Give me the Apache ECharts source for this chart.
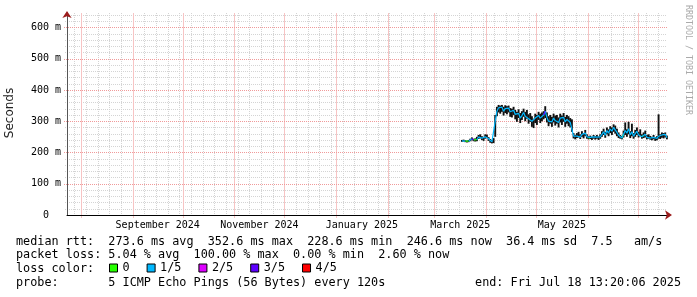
<!DOCTYPE html>
<html><head><meta charset="utf-8">
<script src="https://cdn.jsdelivr.net/npm/echarts@6/dist/echarts.min.js"></script>
<style>html,body{margin:0;padding:0;background:#fff}#c{width:697px;height:297px}</style>
</head><body><div id="c"></div>
<script>
// ---- time frame ----
const endTime = Date.UTC(2025, 6, 18, 13, 20, 6);
const spanDays = 360;
const firstDay = '2025-03-17';          // first daily sample (noon)

// ---- daily median RTT (ms), smoke low/high (ms), loss level (fifths) ----
const median = [
 237,238,236,235,236,240,244,240,239,241,249,252,246,243,250,253,244,238,234,236,
 300,332,343,338,345,332,340,336,342,330,328,335,322,316,325,310,318,328,316,322,
 308,312,300,296,310,304,318,310,315,320,332,312,300,306,298,310,302,306,296,310,
 304,312,298,306,300,296,290,252,247,252,256,249,258,252,262,250,246,248,244,250,
 246,249,245,250,258,266,255,270,262,275,268,280,272,264,255,250,246,258,270,262,
 276,256,266,252,260,268,256,262,250,254,258,248,250,246,244,248,242,245,252,250,
 256,252,258,247
];
const smokeLow = [
 234,235,233,232,233,236,239,236,235,236,243,245,240,237,244,246,237,231,229,230,
 250,316,328,324,330,318,326,322,328,314,312,320,306,298,310,294,304,314,300,308,
 292,298,282,278,294,288,304,294,300,306,310,296,284,292,282,296,286,292,280,296,
 288,298,282,292,284,280,266,245,242,246,248,243,250,245,252,244,242,243,240,244,
 241,244,240,244,250,256,247,258,252,262,256,266,260,252,246,244,242,248,256,250,
 258,246,252,244,250,256,248,252,244,246,248,242,244,241,239,242,237,239,244,243,
 247,245,248,242
];
const smokeHigh = [
 240,241,239,238,240,244,248,244,245,250,256,258,252,250,258,257,249,243,240,246,
 320,346,352,350,352,346,351,348,350,342,340,346,336,330,338,326,332,340,330,336,
 322,326,316,308,324,320,330,324,328,332,348,328,316,320,314,324,318,320,312,324,
 318,326,314,320,316,310,306,262,256,262,266,258,268,262,272,258,252,254,250,256,
 252,256,251,258,268,276,266,280,274,284,280,290,286,276,264,256,252,270,296,274,
 298,268,292,262,272,280,266,274,258,264,270,256,258,253,250,256,249,252,322,258,
 264,262,264,254
];
const lossLevel = [
 1,1,0,0,1,1,3,0,0,1,1,1,1,1,1,1,1,1,1,1,
 1,1,1,1,1,1,1,1,1,1,1,1,1,1,1,1,1,1,1,1,
 1,1,1,1,1,1,1,1,1,3,1,1,1,1,1,1,1,1,1,1,
 1,1,1,1,1,1,1,1,1,1,1,1,1,1,1,1,0,1,1,1,
 1,1,1,1,1,1,1,1,1,1,1,1,1,1,1,1,0,1,1,1,
 1,1,1,1,1,1,1,1,0,1,1,1,1,1,1,1,1,1,1,1,
 1,1,1,1
];
const lossNames = ['0', '1/5', '2/5', '3/5', '4/5'];
const lossColors = ['#26ff00', '#00b8ff', '#dd00ff', '#5e00ff', '#ff0000'];

// ---- axis ticks / labels ----
const monthStarts = ['2024-08-01','2024-09-01','2024-10-01','2024-11-01','2024-12-01','2025-01-01',
  '2025-02-01','2025-03-01','2025-04-01','2025-05-01','2025-06-01','2025-07-01'];
const labelMonths = ['2024-09', '2024-11', '2025-01', '2025-03', '2025-05'];
const labelTexts = ['September 2024', 'November 2024', 'January 2025', 'March 2025', 'May 2025'];
const firstSunday = '2024-07-28';
const yMajorTicks = [0, 100, 200, 300, 400, 500, 600];
const yMinorTicks = [20,40,60,80,120,140,160,180,220,240,260,280,320,340,360,380,420,440,460,480,520,540,560,580,620,640];
const yMax = 646;

// ---- legend / footer text ----
const line1 = 'median rtt:  273.6 ms avg  352.6 ms max  228.6 ms min  246.6 ms now  36.4 ms sd  7.5   am/s';
const line2 = 'packet loss: 5.04 % avg  100.00 % max  0.00 % min  2.60 % now';
const line3 = 'loss color:';
const line4 = 'probe:       5 ICMP Echo Pings (56 Bytes) every 120s';
const endText = 'end: Fri Jul 18 13:20:06 2025';
const yTitle = 'Seconds';
const sideText = 'RRDTOOL / TOBI OETIKER';

// ---- derived ----
const DAY = 86400000;
const startTime = endTime - spanDays * DAY;
const day0 = Date.parse(firstDay + 'T12:00:00Z');
const times = median.map((_, i) => day0 + i * DAY);
const monthTs = monthStarts.map(s => Date.parse(s + 'T00:00:00Z'));
const labelPos = labelMonths.map(m => {
  const a = Date.parse(m + '-01T00:00:00Z');
  const d = new Date(a); d.setUTCMonth(d.getUTCMonth() + 1);
  return (a + d.getTime()) / 2;
});
const weekTs = [];
for (let t = Date.parse(firstSunday + 'T00:00:00Z'); t < endTime; t += 7 * DAY) {
  if (monthTs.indexOf(t) < 0 && t > startTime) weekTs.push(t);
}

const mono = '"DejaVu Sans Mono", monospace';
const majorColor = '#f09a9a';
const majorVColor = '#f7c4c4';
const minorColor = '#d4d4d4';

// grid lines drawn through the axes' scales
function vGridSeries(ts, color, dash, ext, z) {
  return { type: 'custom', z, silent: true, animation: false, data: ts.map(t => [t, 0]),
    renderItem: (params, api) => {
      const cs = params.coordSys;
      const x = Math.round(api.coord([api.value(0), 0])[0]) + 0.5;
      return { type: 'line', shape: { x1: x, y1: cs.y, x2: x, y2: cs.y + cs.height + ext },
        style: { stroke: color, lineWidth: 1, lineDash: dash } };
    } };
}
function hGridSeries(vals, color, dash, ext, z) {
  return { type: 'custom', z, silent: true, animation: false, data: vals.map(v => [startTime, v]),
    renderItem: (params, api) => {
      const cs = params.coordSys;
      const y = Math.round(api.coord([startTime, api.value(1)])[1]) + 0.5;
      return { type: 'line', shape: { x1: cs.x - ext, y1: y, x2: cs.x + cs.width, y2: y },
        style: { stroke: color, lineWidth: 1, lineDash: dash } };
    } };
}

const smokeData = times.map((t, i) => [t, smokeLow[i], smokeHigh[i]]);
const lossSeries = lossNames.map((name, L) => ({
  name, type: 'line', color: lossColors[L], showSymbol: false, connectNulls: false,
  lineStyle: { width: 1.2, color: lossColors[L] }, z: 4 + L, animation: false,
  data: times.map((t, i) => (lossLevel[i] === L || (i > 0 && lossLevel[i - 1] === L)) ? [t, median[i]] : [t, null])
}));

const chart = echarts.init(document.getElementById('c'), null, { renderer: 'canvas' });
chart.setOption({
  backgroundColor: '#fff',
  animation: false,
  grid: { left: 67, right: 30, top: 13, bottom: 82 },
  xAxis: [
    { type: 'value', min: startTime, max: endTime, position: 'bottom', z: 2,
      axisLine: { show: true, onZero: false, lineStyle: { color: '#000', width: 1 } },
      axisTick: { show: false },
      axisLabel: { customValues: labelPos, margin: 5, fontFamily: mono, fontSize: 10, color: '#000',
        formatter: v => { const i = labelPos.findIndex(p => Math.abs(p - v) < 1000); return i >= 0 ? labelTexts[i] : ''; } },
      splitLine: { show: false } },
    { type: 'value', min: startTime, max: endTime, position: 'bottom', z: 2,
      axisLine: { show: true, onZero: false, symbol: ['none', 'arrow'], symbolSize: [7, 7], symbolOffset: [0, 5],
        lineStyle: { color: '#9b1c1c', width: 0 } },
      axisTick: { show: false }, axisLabel: { show: false }, splitLine: { show: false } }
  ],
  yAxis: [
    { type: 'value', min: 0, max: yMax, position: 'left', z: 2,
      axisLine: { show: true, lineStyle: { color: '#555', width: 1 } },
      axisTick: { show: false },
      axisLabel: { customValues: yMajorTicks, margin: 6, fontFamily: mono, fontSize: 10, color: '#000',
        formatter: v => v === 0 ? '0  ' : v + ' m' },
      splitLine: { show: false } },
    { type: 'value', min: 0, max: yMax, position: 'left', z: 2,
      axisLine: { show: true, symbol: ['none', 'arrow'], symbolSize: [7, 7], symbolOffset: [0, 2],
        lineStyle: { color: '#9b1c1c', width: 0 } },
      axisTick: { show: false }, axisLabel: { show: false }, splitLine: { show: false } }
  ],
  legend: {
    left: 109, top: 262, padding: 0, itemWidth: 8, itemHeight: 8, itemGap: 17, icon: 'rect',
    selectedMode: false,
    textStyle: { fontFamily: mono, fontSize: 11.8, color: '#000' },
    data: lossNames.map((n, i) => ({ name: n, itemStyle: { color: lossColors[i], borderColor: '#000', borderWidth: 1 } }))
  },
  series: [
    vGridSeries(weekTs, minorColor, [1, 1], 2, 1),
    hGridSeries(yMinorTicks, minorColor, [1, 1], 2, 1),
    vGridSeries(monthTs, majorVColor, null, 3, 1.5),
    hGridSeries(yMajorTicks.filter(v => v > 0), majorColor, [1, 1], 3, 1.5),
    { type: 'custom', name: 'smoke', z: 3, animation: false, data: smokeData,
      renderItem: (params, api) => {
        const a = api.coord([api.value(0), api.value(1)]);
        const b = api.coord([api.value(0), api.value(2)]);
        return { type: 'line', shape: { x1: a[0], y1: a[1], x2: b[0], y2: b[1] },
          style: { stroke: '#111', lineWidth: 1.9 } };
      } },
    ...lossSeries
  ],
  graphic: [
    { type: 'text', x: 10, y: 113, rotation: Math.PI / 2,
      style: { text: yTitle, font: '12px "DejaVu Sans", sans-serif', fill: '#222', align: 'center', verticalAlign: 'middle' } },
    { type: 'text', x: 688, y: 60, rotation: -Math.PI / 2,
      style: { text: sideText, font: '8.3px "DejaVu Sans Mono", monospace', fill: '#aaa', align: 'center', verticalAlign: 'middle' } },
    { type: 'text', x: 16, y: 241.7, style: { text: line1, font: '11.8px ' + mono, fill: '#000', verticalAlign: 'middle' } },
    { type: 'text', x: 16, y: 255.3, style: { text: line2, font: '11.8px ' + mono, fill: '#000', verticalAlign: 'middle' } },
    { type: 'text', x: 16, y: 269.3, style: { text: line3, font: '11.8px ' + mono, fill: '#000', verticalAlign: 'middle' } },
    { type: 'text', x: 16, y: 283.3, style: { text: line4, font: '11.8px ' + mono, fill: '#000', verticalAlign: 'middle' } },
    { type: 'text', x: 681, y: 283.3, style: { text: endText, font: '11.8px ' + mono, fill: '#000', align: 'right', verticalAlign: 'middle' } }
  ]
});
</script></body></html>
